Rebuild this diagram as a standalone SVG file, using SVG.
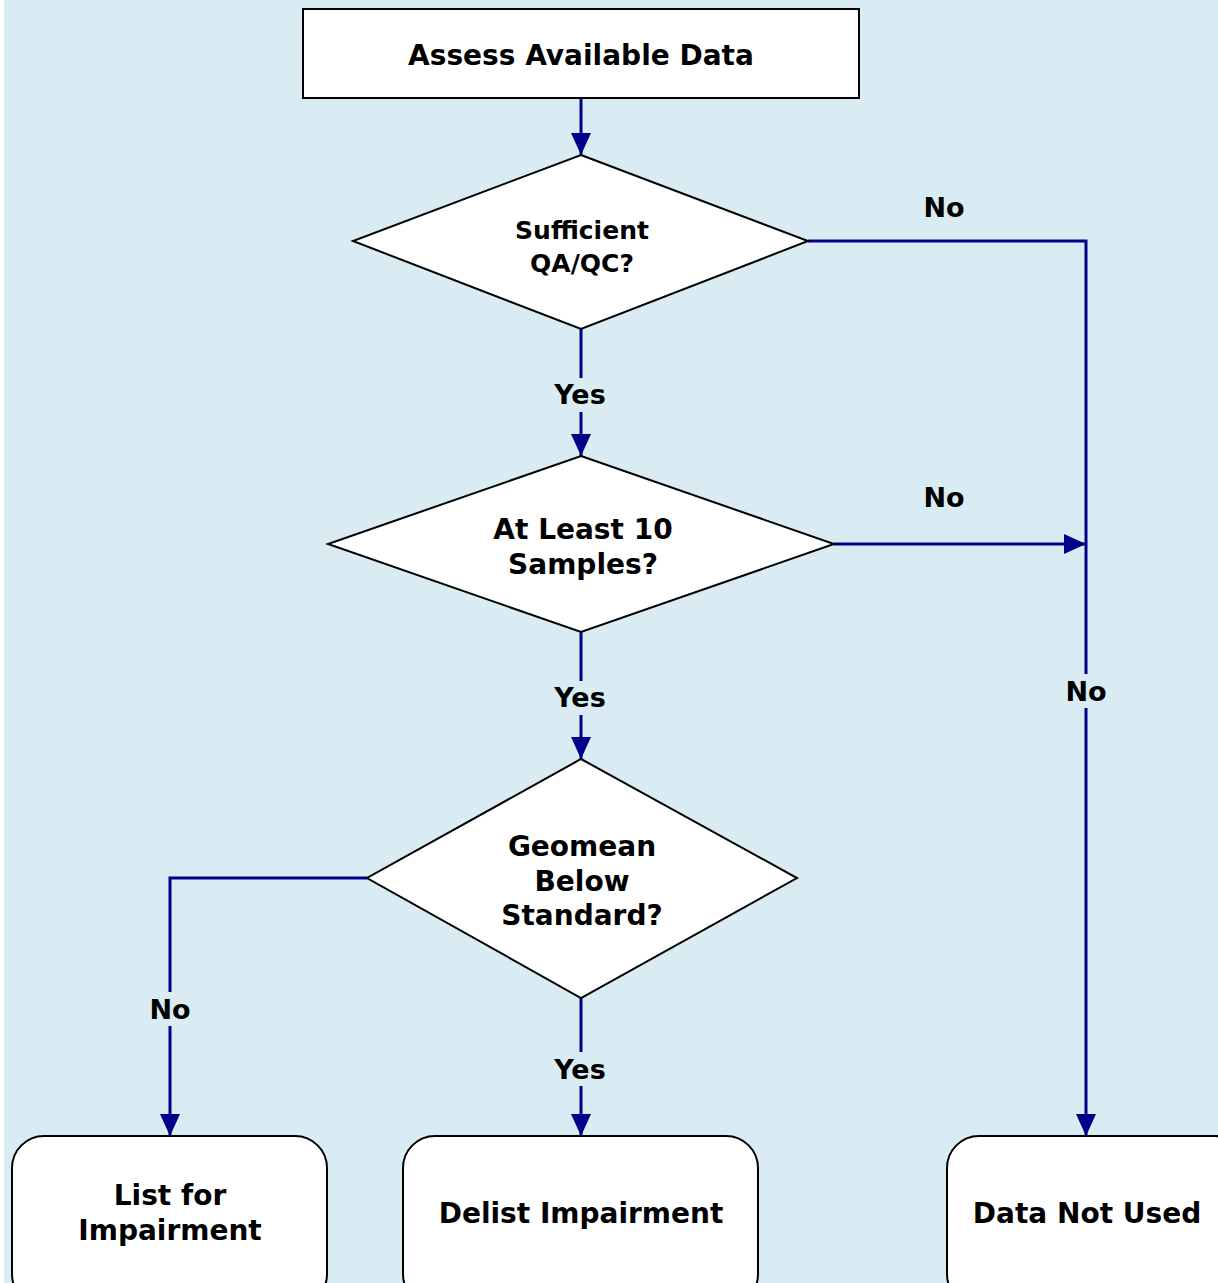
<svg xmlns="http://www.w3.org/2000/svg" width="1218" height="1283" viewBox="0 0 1218 1283">
<defs>
<style>
.bg{fill:#d9ecf3}
.node{fill:#ffffff;stroke:#000000;stroke-width:2}
.t{font-family:"DejaVu Sans","Verdana",sans-serif;font-weight:bold;font-size:28px;fill:#000000;text-anchor:middle}
.s{font-size:25px}
.edge{fill:none;stroke:#00008b;stroke-width:3}
.lbl{font-family:"DejaVu Sans","Verdana",sans-serif;font-weight:bold;font-size:27px;fill:#000000;text-anchor:middle}
.lblbg{fill:#d9ecf3}
</style>
<marker id="arr" markerWidth="22" markerHeight="20" refX="22" refY="10" orient="auto" markerUnits="userSpaceOnUse">
<path d="M0,0 L22,10 L0,20 Z" fill="#00008b"/>
</marker>
</defs>
<rect class="bg" x="0" y="0" width="1218" height="1283"/>
<rect x="0" y="0" width="4" height="1283" fill="#ffffff"/>

<g id="connectors">
<path class="edge" d="M581,98 L581,155" marker-end="url(#arr)"/>
<path class="edge" d="M808,241 L1086,241 L1086,1136" marker-end="url(#arr)"/>
<path class="edge" d="M581,329 L581,456" marker-end="url(#arr)"/>
<path class="edge" d="M834,544 L1086,544" marker-end="url(#arr)"/>
<path class="edge" d="M581,632 L581,759" marker-end="url(#arr)"/>
<path class="edge" d="M581,998 L581,1136" marker-end="url(#arr)"/>
<path class="edge" d="M367,878 L170,878 L170,1136" marker-end="url(#arr)"/>
<text class="lbl" x="944" y="217">No</text>
<text class="lbl" x="944" y="507">No</text>
<rect class="lblbg" x="1062" y="674" width="48" height="34"/>
<text class="lbl" x="1086" y="701">No</text>
<rect class="lblbg" x="548" y="378" width="66" height="34"/>
<text class="lbl" x="580" y="404">Yes</text>
<rect class="lblbg" x="548" y="681" width="66" height="34"/>
<text class="lbl" x="580" y="707">Yes</text>
<rect class="lblbg" x="548" y="1052" width="66" height="34"/>
<text class="lbl" x="580" y="1079">Yes</text>
<rect class="lblbg" x="146" y="992" width="48" height="34"/>
<text class="lbl" x="170" y="1019">No</text>
</g>

<g id="assess">
<rect class="node" x="303" y="9" width="556" height="89"/>
<text class="t" x="581" y="65">Assess Available Data</text>
</g>
<g id="qaqc">
<polygon class="node" points="581,155 808,241 581,329 353,241"/>
<text class="t s" x="582" y="239">Sufficient</text>
<text class="t s" x="582" y="272">QA/QC?</text>
</g>
<g id="samples">
<polygon class="node" points="581,456 834,544 581,632 328,544"/>
<text class="t" x="583" y="539">At Least 10</text>
<text class="t" x="583" y="574">Samples?</text>
</g>
<g id="geomean">
<polygon class="node" points="581,759 797,878 581,998 367,878"/>
<text class="t" x="582" y="856">Geomean</text>
<text class="t" x="582" y="891">Below</text>
<text class="t" x="582" y="925">Standard?</text>
</g>
<g id="list">
<rect class="node" x="12" y="1136" width="315" height="170" rx="32" ry="32"/>
<text class="t" x="170" y="1205">List for</text>
<text class="t" x="170" y="1240">Impairment</text>
</g>
<g id="delist">
<rect class="node" x="403" y="1136" width="355" height="170" rx="32" ry="32"/>
<text class="t" x="581" y="1223">Delist Impairment</text>
</g>
<g id="notused">
<rect class="node" x="947" y="1136" width="300" height="170" rx="32" ry="32"/>
<text class="t" x="1087" y="1223">Data Not Used</text>
</g>
</svg>
